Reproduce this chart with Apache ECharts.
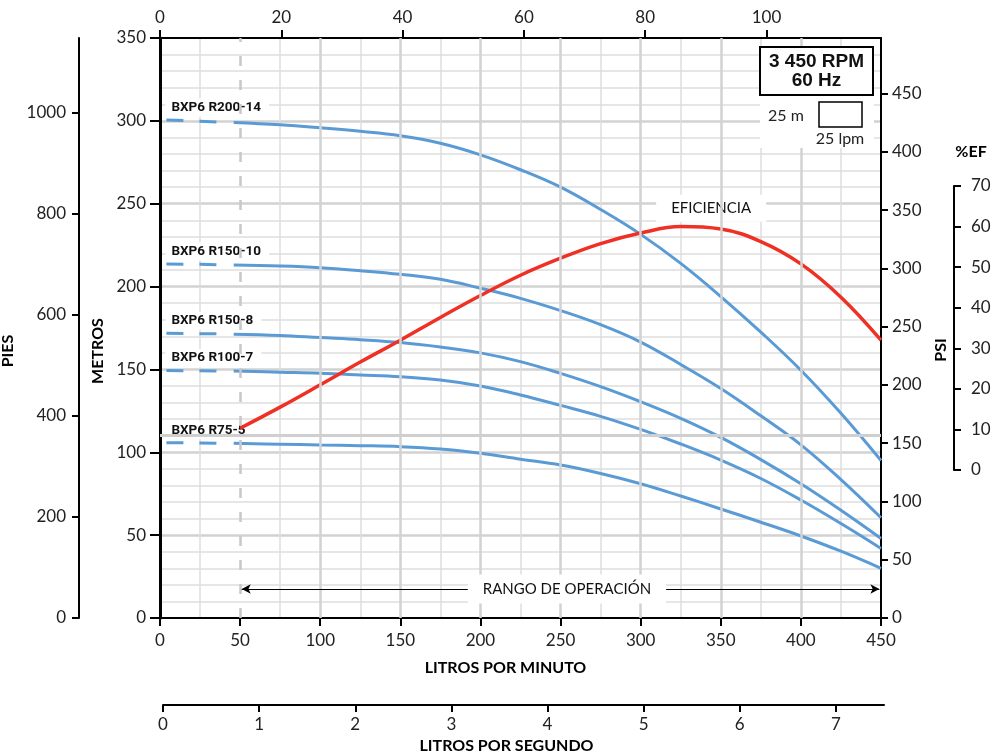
<!DOCTYPE html>
<html><head><meta charset="utf-8">
<script src="https://cdn.jsdelivr.net/npm/echarts@6/dist/echarts.min.js"></script>
<style>html,body{margin:0;padding:0;background:#fff}#c{width:994px;height:756px}</style>
</head><body><div id="c"></div>
<script>
// ---------- data ----------
const curveNames = ['BXP6 R200-14', 'BXP6 R150-10', 'BXP6 R150-8', 'BXP6 R100-7', 'BXP6 R75-5'];
const dashFlow = [4, 25, 44];            // lpm, dashed (outside operating range)
const flowLpm  = [46, 75, 100, 125, 150, 175, 200, 225, 250, 275, 300, 325, 350, 375, 400, 425, 450];

const dashR200_14 = [300.5, 299.8, 299.0];
const headR200_14 = [299.0, 297.6, 295.8, 293.7, 291.0, 286.5, 279.5, 270.5, 260.0, 246.5, 231.5, 214.0, 194.0, 172.5, 149.5, 123.5, 95.0];
const dashR150_10 = [213.6, 213.4, 213.1];
const headR150_10 = [213.0, 212.4, 211.4, 209.6, 207.4, 204.4, 199.0, 192.9, 185.5, 177.0, 166.5, 153.0, 138.5, 122.0, 104.5, 83.5, 60.5];
const dashR150_8  = [171.8, 171.6, 171.4];
const headR150_8  = [171.3, 170.5, 169.2, 167.9, 166.2, 163.5, 160.0, 154.7, 147.6, 139.6, 130.5, 120.5, 109.0, 95.6, 81.0, 65.0, 48.0];
const dashR100_7  = [149.3, 149.2, 149.0];
const headR100_7  = [149.0, 148.3, 147.7, 146.7, 145.6, 143.6, 140.0, 134.6, 128.3, 121.7, 113.8, 105.0, 95.3, 84.2, 71.2, 57.0, 42.0];
const dashR75_5   = [105.8, 105.6, 105.4];
const headR75_5   = [105.4, 104.9, 104.4, 104.0, 103.4, 102.0, 99.4, 95.8, 92.3, 87.2, 81.0, 73.6, 65.8, 57.8, 49.5, 40.3, 30.0];

const dashHeads = [dashR200_14, dashR150_10, dashR150_8, dashR100_7, dashR75_5];
const solidHeads = [headR200_14, headR150_10, headR150_8, headR100_7, headR75_5];

const effFlow   = [50, 75, 100, 125, 150, 175, 200, 225, 250, 275, 300, 325, 350, 375, 400, 425, 450];
const effValues = [10.3, 15.5, 21.0, 26.6, 32.0, 37.6, 43.0, 48.0, 52.2, 55.8, 58.4, 60.0, 59.4, 56.3, 50.8, 42.6, 32.0];

const gpmTicks  = [0, 20, 40, 60, 80, 100];
const lpsTicks  = [0, 1, 2, 3, 4, 5, 6, 7];
const piesTicks = [0, 200, 400, 600, 800, 1000];
const psiTicks  = [0, 50, 100, 150, 200, 250, 300, 350, 400, 450];
const majorFlowLines = [100, 150, 200, 250, 300, 350, 400];
const operatingRange = [50, 450];

// unit conversions
const LPM_MAX = 450, M_MAX = 350;
const GPM_MAX = LPM_MAX / 3.78541;
const LPS_MAX = LPM_MAX / 60;
const PIES_MAX = M_MAX / 0.3048;
const PSI_MAX = M_MAX * 1.42233;

// ---------- styles ----------
const BLUE = '#5B9BD5', RED = '#EE3124';
const FONT = 'Lato, "Open Sans", sans-serif';
const LBL = { color: '#222', fontSize: 17, fontFamily: FONT, formatter: v => String(v) };
const AX = { onZero: false, lineStyle: { color: '#000', width: 2 } };
const TK = (len, extra) => Object.assign({ inside: false, length: len, lineStyle: { color: '#000', width: 2 } }, extra || {});
const TITLE = { fontWeight: 'bold', fontSize: 16, color: '#000', fontFamily: FONT };

const zip = (xs, ys) => xs.map((x, i) => [x, ys[i]]);

const series = [];
// helper grid lines
series.push({
  type: 'line', xAxisIndex: 0, yAxisIndex: 0, data: [], z: 1, silent: true,
  markLine: {
    symbol: 'none', silent: true, animation: false, label: { show: false },
    data: [
      ...majorFlowLines.map(v => ({ xAxis: v, lineStyle: { color: '#D2D2D2', width: 2.5, type: 'solid' } })),
      { xAxis: operatingRange[0], lineStyle: { color: '#C8C8C8', width: 2.5, type: [10, 14] } },
      { yAxis: 110, lineStyle: { color: '#CFCFCF', width: 3, type: 'solid' } }
    ]
  }
});
// operating range arrow
series.push({
  type: 'line', xAxisIndex: 0, yAxisIndex: 0, data: [], z: 5, silent: true,
  markLine: {
    symbol: ['arrow', 'arrow'], symbolSize: [7, 9], silent: true, animation: false,
    label: { show: false },
    lineStyle: { color: '#000', width: 1, type: 'solid' },
    data: [[{ coord: [operatingRange[0] + 1, 17.5] }, { coord: [operatingRange[1] - 1, 17.5] }]]
  }
});
curveNames.forEach((name, i) => {
  series.push({
    name: name + ' (fuera)', type: 'line', xAxisIndex: 0, yAxisIndex: 0, z: 3,
    data: zip(dashFlow, dashHeads[i]), showSymbol: false, symbol: 'none', smooth: false,
    lineStyle: { color: BLUE, width: 3, type: [17, 16], cap: 'butt' }, animation: false
  });
  series.push({
    name: name, type: 'line', xAxisIndex: 0, yAxisIndex: 0, z: 3,
    data: zip(flowLpm, solidHeads[i]), showSymbol: false, symbol: 'none', smooth: 0.4,
    lineStyle: { color: BLUE, width: 3 }, animation: false
  });
});
series.push({
  name: 'EFICIENCIA', type: 'line', xAxisIndex: 2, yAxisIndex: 3, z: 4,
  data: zip(effFlow, effValues), showSymbol: false, symbol: 'none', smooth: 0.4,
  lineStyle: { color: RED, width: 3.5 }, animation: false
});

const option = {
  backgroundColor: '#fff',
  animation: false,
  grid: [
    { left: 160, right: 113, top: 38, bottom: 138, outerBoundsMode: 'none', containLabel: false },
    { left: 160, right: 113, top: 186, bottom: 286, outerBoundsMode: 'none', containLabel: false },
    { left: 163, right: 110, top: 690, bottom: 51, outerBoundsMode: 'none', containLabel: false }
  ],
  xAxis: [
    { gridIndex: 0, type: 'value', position: 'bottom', min: 0, max: LPM_MAX, interval: 50,
      axisLine: AX, axisTick: TK(8), axisLabel: Object.assign({ margin: 14 }, LBL),
      splitLine: { show: false }, minorTick: { show: false, splitNumber: 2 },
      minorSplitLine: { show: true, lineStyle: { color: '#DEDEDE', width: 1.5 } },
      name: 'LITROS POR MINUTO', nameLocation: 'middle', nameGap: 42,
      nameTextStyle: Object.assign({ padding: [0, 30, 0, 0] }, TITLE) },
    { gridIndex: 0, type: 'value', position: 'top', min: 0, max: GPM_MAX,
      axisLine: AX, axisTick: TK(8, { customValues: gpmTicks }),
      axisLabel: Object.assign({ margin: 12, customValues: gpmTicks }, LBL),
      splitLine: { show: false } },
    { gridIndex: 1, type: 'value', min: 0, max: LPM_MAX, show: false },
    { gridIndex: 2, type: 'value', position: 'bottom', min: 0, max: LPS_MAX,
      axisLine: AX, axisTick: TK(7, { customValues: lpsTicks }),
      axisLabel: Object.assign({ margin: 11, customValues: lpsTicks }, LBL),
      splitLine: { show: false },
      name: 'LITROS POR SEGUNDO', nameLocation: 'middle', nameGap: 33,
      nameTextStyle: Object.assign({ padding: [0, 34, 0, 0] }, TITLE) }
  ],
  yAxis: [
    { gridIndex: 0, type: 'value', position: 'left', min: 0, max: M_MAX, interval: 50,
      axisLine: { onZero: false, lineStyle: { color: '#000', width: 3 } }, axisTick: TK(10),
      axisLabel: Object.assign({ margin: 14 }, LBL),
      splitLine: { show: true, showMinLine: false, showMaxLine: false, lineStyle: { color: '#D2D2D2', width: 2.5 } },
      minorTick: { show: false, splitNumber: 5 },
      minorSplitLine: { show: true, lineStyle: { color: '#DEDEDE', width: 1.5 } },
      name: 'METROS', nameLocation: 'middle', nameRotate: 90, nameGap: 47,
      nameTextStyle: Object.assign({ padding: [0, 46, 0, 0] }, TITLE) },
    { gridIndex: 0, type: 'value', position: 'left', offset: 81, min: 0, max: PIES_MAX,
      axisLine: AX, axisTick: TK(7, { customValues: piesTicks }),
      axisLabel: Object.assign({ margin: 13, customValues: piesTicks }, LBL),
      splitLine: { show: false },
      name: 'PIES', nameLocation: 'middle', nameRotate: 90, nameGap: 50,
      nameTextStyle: Object.assign({ padding: [0, 46, 0, 0] }, TITLE) },
    { gridIndex: 0, type: 'value', position: 'right', min: 0, max: PSI_MAX,
      axisLine: AX, axisTick: TK(7, { customValues: psiTicks }),
      axisLabel: Object.assign({ margin: 11, customValues: psiTicks }, LBL),
      splitLine: { show: false },
      name: 'PSI', nameLocation: 'middle', nameRotate: 90, nameGap: 44,
      nameTextStyle: Object.assign({ padding: [0, 44, 0, 0] }, TITLE) },
    { gridIndex: 1, type: 'value', position: 'right', offset: 73, min: 0, max: 70, interval: 10,
      axisLine: AX, axisTick: TK(7), axisLabel: Object.assign({ margin: 17 }, LBL),
      splitLine: { show: false },
      name: '%EF', nameLocation: 'end', nameGap: 26,
      nameTextStyle: Object.assign({ padding: [0, 0, 0, 34] }, TITLE) },
    { gridIndex: 2, type: 'value', min: 0, max: 1, show: false }
  ],
  series: series
};

const chart = echarts.init(document.getElementById('c'), null, { renderer: 'canvas' });
chart.setOption(option);

// ---------- annotations ----------
const g = [];
curveNames.forEach((name, i) => {
  const p = chart.convertToPixel({ xAxisIndex: 0, yAxisIndex: 0 }, [dashFlow[0], dashHeads[i][0]]);
  g.push({ type: 'text', z: 2, x: p[0] - 1, y: p[1] - 12.5,
    style: { text: name, font: 'bold 13.5px Roboto, "Noto Sans", sans-serif', fill: '#111',
      align: 'left', verticalAlign: 'middle', backgroundColor: '#fff', padding: [2, 8, 2, 6] } });
});
const pe = chart.convertToPixel({ xAxisIndex: 2, yAxisIndex: 3 }, [344, 64.5]);
g.push({ type: 'text', z: 2, x: pe[0], y: pe[1],
  style: { text: 'EFICIENCIA', font: '15px ' + FONT, fill: '#111', align: 'center', verticalAlign: 'middle',
    backgroundColor: '#fff', padding: [6, 15] } });
const pr = chart.convertToPixel({ xAxisIndex: 0, yAxisIndex: 0 }, [254, 17.5]);
g.push({ type: 'text', z: 10, x: pr[0], y: pr[1],
  style: { text: 'RANGO DE OPERACIÓN', font: '15px ' + FONT, fill: '#111', align: 'center', verticalAlign: 'middle',
    backgroundColor: '#fff', padding: [7, 15] } });
// speed box and scale legend
g.push({ type: 'rect', z: 10, shape: { x: 760, y: 96, width: 114, height: 52 }, style: { fill: '#fff' } });
g.push({ type: 'rect', z: 11, shape: { x: 760, y: 47, width: 113, height: 48 }, style: { fill: '#fff', stroke: '#000', lineWidth: 2 } });
g.push({ type: 'text', z: 12, x: 816.5, y: 62, style: { text: '3 450 RPM', font: 'bold 19px "Liberation Sans", Arial, sans-serif', fill: '#111', align: 'center', verticalAlign: 'middle' } });
g.push({ type: 'text', z: 12, x: 816.5, y: 81, style: { text: '60 Hz', font: 'bold 19px "Liberation Sans", Arial, sans-serif', fill: '#111', align: 'center', verticalAlign: 'middle' } });
g.push({ type: 'rect', z: 11, shape: { x: 819, y: 102, width: 43, height: 25 }, style: { fill: '#fff', stroke: '#000', lineWidth: 1.5 } });
g.push({ type: 'text', z: 12, x: 786, y: 116, style: { text: '25 m', font: '16px ' + FONT, fill: '#222', align: 'center', verticalAlign: 'middle' } });
g.push({ type: 'text', z: 12, x: 840, y: 139, style: { text: '25 lpm', font: '16px ' + FONT, fill: '#222', align: 'center', verticalAlign: 'middle' } });
chart.setOption({ graphic: g });
</script></body></html>
